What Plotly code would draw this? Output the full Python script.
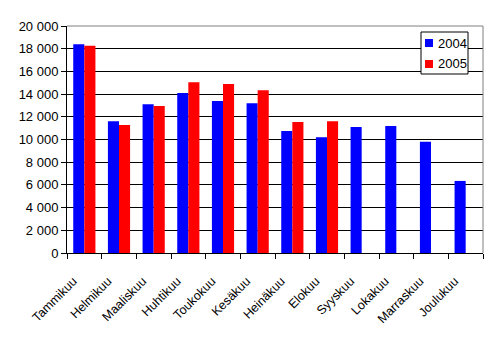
import plotly.graph_objects as go

months = ["Tammikuu", "Helmikuu", "Maaliskuu", "Huhtikuu", "Toukokuu", "Kesäkuu",
          "Heinäkuu", "Elokuu", "Syyskuu", "Lokakuu", "Marraskuu", "Joulukuu"]
v2004 = [18400, 11600, 13100, 14100, 13400, 13200, 10750, 10200, 11100, 11200, 9800, 6350]
v2005 = [18250, 11270, 12950, 15050, 14900, 14350, 11550, 11600, None, None, None, None]
series_names = ["2004", "2005"]
series_colors = ["#0000FF", "#FF0000"]
ytick_vals = list(range(0, 20001, 2000))
ytick_text = ["{:,}".format(v).replace(",", " ") for v in ytick_vals]

W, H = 497, 338
L, R, T, B = 67, 14, 26, 85
pw, ph = W - L - R, H - T - B

def px(x):
    return (x - L) / pw

def py(y):
    return 1 - (y - T) / ph

fig = go.Figure()
for name, vals, col in zip(series_names, [v2004, v2005], series_colors):
    fig.add_trace(go.Bar(name=name, x=months, y=vals,
                         marker=dict(color=col, line=dict(width=0))))

shapes = [
    dict(type="line", xref="paper", yref="paper", x0=0, x1=1, y0=1, y1=1,
         line=dict(color="#808080", width=1)),
    dict(type="line", xref="paper", yref="paper", x0=1, x1=1, y0=0, y1=1,
         line=dict(color="#808080", width=1)),
    dict(type="rect", xref="paper", yref="paper", x0=px(421), x1=px(468),
         y0=py(74), y1=py(32), fillcolor="white", line=dict(color="black", width=1)),
]
annotations = []
for i, (name, col) in enumerate(zip(series_names, series_colors)):
    cy = 43 + 21 * i
    shapes.append(dict(type="rect", xref="paper", yref="paper", x0=px(425), x1=px(433),
                       y0=py(cy + 4), y1=py(cy - 4), fillcolor=col, line=dict(width=0)))
    annotations.append(dict(xref="paper", yref="paper", x=px(436), y=py(cy), text=name,
                            showarrow=False, xanchor="left", yanchor="middle",
                            font=dict(size=13)))

fig.update_layout(
    width=W, height=H,
    margin=dict(l=L, r=R, t=T, b=B),
    paper_bgcolor="white", plot_bgcolor="white",
    barmode="group", bargap=0.36, bargroupgap=0,
    font=dict(family="Liberation Sans, Arial, sans-serif", size=13, color="black"),
    showlegend=False,
    shapes=shapes, annotations=annotations,
)
fig.update_xaxes(type="category", tickangle=-45, ticks="outside", tickson="boundaries",
                 ticklen=5, tickcolor="black", showline=True, linecolor="black",
                 linewidth=1, showgrid=False, tickfont=dict(size=12.5),
                 ticklabelstandoff=15, ticklabelshift=-11)
fig.update_yaxes(range=[0, 20000], tickvals=ytick_vals, ticktext=ytick_text,
                 ticks="outside", ticklen=5, tickcolor="black", showline=True,
                 linecolor="black", linewidth=1, showgrid=True, gridcolor="black",
                 gridwidth=1, zeroline=False, tickfont=dict(size=13))

fig.write_html("out.html")
